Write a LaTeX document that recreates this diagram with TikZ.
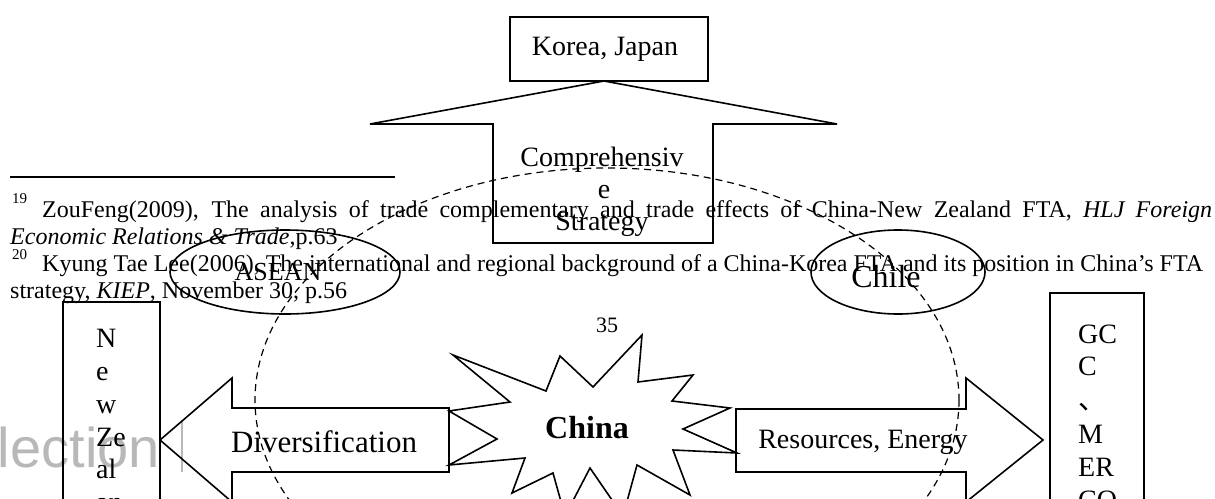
\documentclass[tikz,border=0pt]{standalone}
\usepackage{fontspec}
\setmainfont{Liberation Serif}
\newfontfamily\cjk{Noto Sans CJK SC}
\newfontfamily\wmfont{Liberation Sans}
\begin{document}
\begin{tikzpicture}[x=1pt,y=-1pt,
  shapeline/.style={draw=black, line width=1.6pt, line join=miter},
  lbl/.style={inner sep=0pt, anchor=base},
  lblw/.style={inner sep=0pt, anchor=base west},
  big/.style={font=\fontsize{28}{32}\selectfont},
  fn/.style={inner sep=0pt, anchor=base west, font=\fontsize{24}{27}\selectfont},
  supr/.style={inner sep=0pt, anchor=base west, font=\fontsize{15}{16}\selectfont},
  circ/.style={draw=black, line width=1.2pt, dash pattern=on 7pt off 5pt}]
\clip (0,0) rectangle (1215,498);
\fill[white] (0,0) rectangle (1215,498);

% watermark
\node[anchor=base east, inner sep=0pt, font=\wmfont\fontsize{56}{56}\selectfont, text=black!28] (wm) at (160,467) {lection};
\draw[black!28, line width=2.5pt] (182,420) -- (182,472);

% footnotes
\draw[line width=1.5pt] (10,177) -- (395,177);
\node[supr] (s19) at (12,203) {19};
\node[fn] (f1) at (42,217) {\makebox[1170pt][s]{ZouFeng(2009), The analysis of trade complementary and trade effects of China-New Zealand FTA, \textit{HLJ Foreign}}};
\node[fn] (f2) at (10,244) {\textit{Economic Relations \& Trade},p.63};
\node[supr] (s20) at (12,259) {20};
\node[fn] (f3) at (42,271) {Kyung Tae Lee(2006), The international and regional background of a China-Korea FTA and its position in China’s FTA};
\node[fn] (f4) at (10,298) {strategy, \textit{KIEP}, November 30, p.56};

% Korea, Japan box and up arrow
\draw[shapeline] (510,17) rectangle (708,81);
\node[lbl, big] (kj) at (605,55) {Korea, Japan};
\draw[shapeline] (493,243) -- (493,124) -- (370,124) -- (604,81) -- (837,124) -- (713,124) -- (713,243) -- cycle;
\node[lbl, big] (c1) at (602,166) {Comprehensiv};
\node[lbl, big] (c2) at (604,198) {e};
\node[lbl, big] (c3) at (602,230) {Strategy};

% ellipses
\draw[shapeline] (285,272) ellipse [x radius=115, y radius=42];
\node[lbl, font=\fontsize{26}{28}\selectfont] (asean) at (278,280) {ASEAN};
\draw[shapeline] (898,272) ellipse [x radius=87, y radius=42];
\node[lbl, font=\fontsize{32}{34}\selectfont] (chile) at (886,287) {Chile};

% page number
\node[lbl, font=\fontsize{22}{24}\selectfont] (pg) at (607,332) {35};

% New Zealand box
\draw[shapeline] (63,302) rectangle (160,560);
\node[lblw, big] (nz1) at (96,347) {N};
\node[lblw, big] (nz2) at (96,380) {e};
\node[lblw, big] (nz3) at (96,413) {w};
\node[lblw, big] (nz4) at (96,446) {Ze};
\node[lblw, big] (nz5) at (96,478) {al};
\node[lblw, big] (nz6) at (96,511) {an};

% GCC box
\draw[shapeline] (1050,293) rectangle (1144,560);
\node[lblw, big] (g1) at (1078,343) {GC};
\node[lblw, big] (g2) at (1078,375) {C};
\node[lblw, big] (g3) at (1078,409) {\cjk 、};
\node[lblw, big] (g4) at (1078,443) {M};
\node[lblw, big] (g5) at (1078,476) {ER};
\node[lblw, big] (g6) at (1078,509) {CO};

% star
\draw[shapeline] (453,355) -- (546,391) -- (560,356) -- (593,387) -- (642,335) -- (638,382)
  -- (693,375) -- (672,401) -- (730,408) -- (683,429) -- (737,453) -- (673,450)
  -- (690,495) -- (637,465) -- (623,516) -- (590,468) -- (565,516) -- (553,473)
  -- (512,493) -- (525,458) -- (449,465) -- (497,439) -- (449,411) -- (510,402) -- cycle;
\node[lbl, font=\fontsize{32}{34}\selectfont\bfseries] (china) at (587,438) {China};

% left arrow
\draw[shapeline] (160,440) -- (232,378) -- (232,408) -- (449,408) -- (449,472) -- (232,472) -- (232,502) -- cycle;
\node[lbl, font=\fontsize{31}{34}\selectfont] (div) at (324,452) {Diversification};

% right arrow
\draw[shapeline] (736,409) -- (966,409) -- (966,378) -- (1043,440) -- (966,502) -- (966,472) -- (736,472) -- cycle;
\node[lbl, big] (res) at (863,448) {Resources, Energy};

% dashed circle
\draw[circ] (607,400) ellipse [x radius=352, y radius=232];
\end{tikzpicture}
\end{document}
